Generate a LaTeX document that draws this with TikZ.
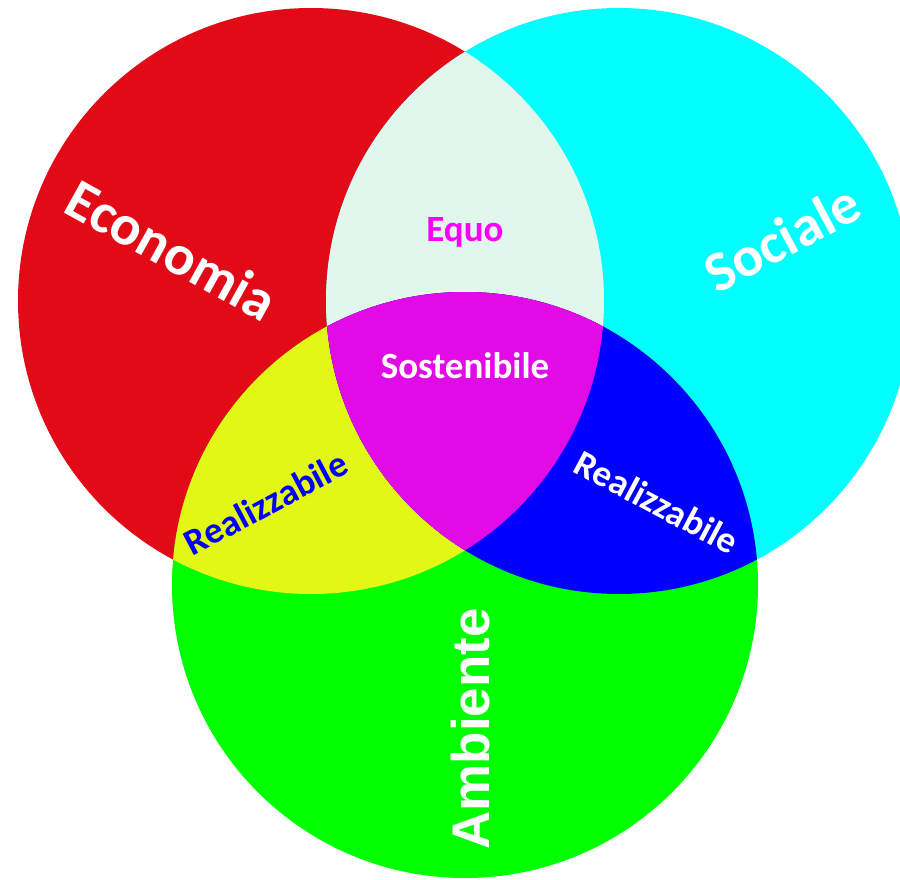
\documentclass[tikz,border=0pt]{standalone}
\usepackage{fontspec}
\setmainfont{Carlito}
\newfontfamily\arialfont{Liberation Sans}
\definecolor{cred}{RGB}{226,10,22}
\definecolor{ccyan}{RGB}{0,255,255}
\definecolor{cgreen}{RGB}{0,255,0}
\definecolor{cmint}{RGB}{226,247,236}
\definecolor{cyellow}{RGB}{226,247,22}
\definecolor{cblue}{RGB}{0,0,255}
\definecolor{cmag}{RGB}{226,10,230}
\definecolor{cequo}{RGB}{250,0,250}
\tikzset{
  lbl/.style={inner sep=0pt, font=\bfseries\fontsize{57}{62}\selectfont, text=white},
  small/.style={inner sep=0pt, font=\bfseries\fontsize{37}{42}\selectfont},
}
\begin{document}
\begin{tikzpicture}[x=1pt,y=1pt]
\useasboundingbox (0,0) rectangle (900,-880);
\clip (0,0) rectangle (900,-880);
\def\R{293}
\coordinate (cr) at (311,-301);
\coordinate (cc) at (619,-301);
\coordinate (cg) at (465,-585);
\fill[cred] (cr) circle (\R);
\fill[ccyan] (cc) circle (\R);
\fill[cgreen] (cg) circle (\R);
\begin{scope}
  \clip (cr) circle (\R);
  \fill[cmint] (cc) circle (\R);
  \fill[cyellow] (cg) circle (\R);
  \clip (cc) circle (\R);
  \fill[cmag] (cg) circle (\R);
\end{scope}
\begin{scope}
  \clip (cc) circle (\R);
  \clip (cg) circle (\R);
  \fill[cblue] (cc) circle (\R);
  \clip (cr) circle (\R);
  \fill[cmag] (cg) circle (\R);
\end{scope}
\node[lbl, rotate=-29] (eco) at (172,-250) {Economia};
\node[lbl, rotate=28] (soc) at (782,-238) {Sociale};
\node[lbl, rotate=90, font=\arialfont\bfseries\fontsize{53}{58}\selectfont] (amb) at (471,-729) {Ambiente};
\node[small, text=cequo] (equo) at (465,-232) {Equo};
\node[small, text=white] (sost) at (465,-366) {Sostenibile};
\node[small, text=cblue, rotate=28] (real1) at (266,-503) {Realizzabile};
\node[small, text=white, rotate=-28] (real2) at (657,-502) {Realizzabile};
\end{tikzpicture}
\end{document}
